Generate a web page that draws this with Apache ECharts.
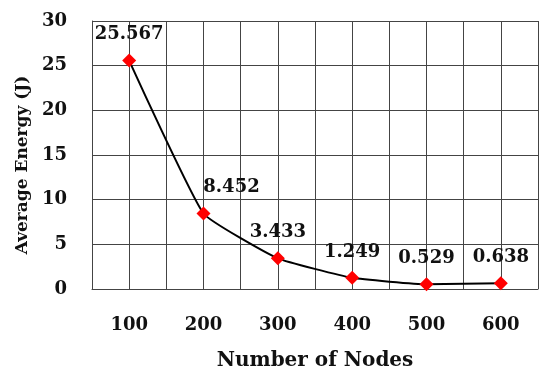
<!DOCTYPE html>
<html>
<head>
<meta charset="utf-8">
<script src="https://cdn.jsdelivr.net/npm/echarts@6/dist/echarts.min.js"></script>
<style>
  html, body { margin: 0; padding: 0; background: #fff; }
  #chart { width: 550px; height: 379px; }
</style>
</head>
<body>
<div id="chart"></div>
<script>
const nodes = [100, 200, 300, 400, 500, 600];
const energy = [25.567, 8.452, 3.433, 1.249, 0.529, 0.638];
const yTicks = [0, 5, 10, 15, 20, 25, 30];

const font = 'DejaVu Serif';
const gridColor = '#444';

const points = nodes.map((n, i) => {
  const item = { value: [n, energy[i]] };
  if (i === 1) item.label = { offset: [28, 0] };
  return item;
});

const chart = echarts.init(document.getElementById('chart'));
chart.setOption({
  animation: false,
  grid: { left: 92, right: 12, top: 21, bottom: 90 },
  xAxis: {
    type: 'value',
    min: 50,
    max: 650,
    interval: 50,
    name: 'Number of Nodes',
    nameLocation: 'middle',
    nameGap: 62,
    nameTextStyle: { fontFamily: font, fontWeight: 'bold', fontSize: 20, color: '#111' },
    axisLine: { show: true, lineStyle: { color: gridColor, width: 1 } },
    axisTick: { show: false },
    axisLabel: {
      margin: 27,
      fontFamily: font, fontWeight: 'bold', fontSize: 18, color: '#111',
      formatter: v => (nodes.indexOf(v) >= 0 ? String(v) : '')
    },
    splitLine: { show: true, lineStyle: { color: gridColor, width: 1 } }
  },
  yAxis: {
    type: 'value',
    min: yTicks[0],
    max: yTicks[yTicks.length - 1],
    interval: 5,
    name: 'Average Energy (J)',
    nameLocation: 'middle',
    nameGap: 52,
    nameRotate: 90,
    nameTextStyle: { fontFamily: font, fontWeight: 'bold', fontSize: 17, color: '#111', padding: [0, 20, 0, 0] },
    axisLine: { show: true, lineStyle: { color: gridColor, width: 1 } },
    axisTick: { show: false },
    axisLabel: { margin: 25, fontFamily: font, fontWeight: 'bold', fontSize: 18, color: '#111' },
    splitLine: { show: true, lineStyle: { color: gridColor, width: 1 } }
  },
  series: [{
    type: 'line',
    data: points,
    smooth: 0.12,
    symbol: 'diamond',
    symbolSize: 14,
    lineStyle: { color: '#000', width: 2 },
    itemStyle: { color: '#ff0000' },
    label: {
      show: true,
      position: 'top',
      distance: 10,
      fontFamily: font, fontWeight: 'bold', fontSize: 18, color: '#111',
      formatter: p => p.value[1].toFixed(3)
    }
  }]
});
</script>
</body>
</html>
